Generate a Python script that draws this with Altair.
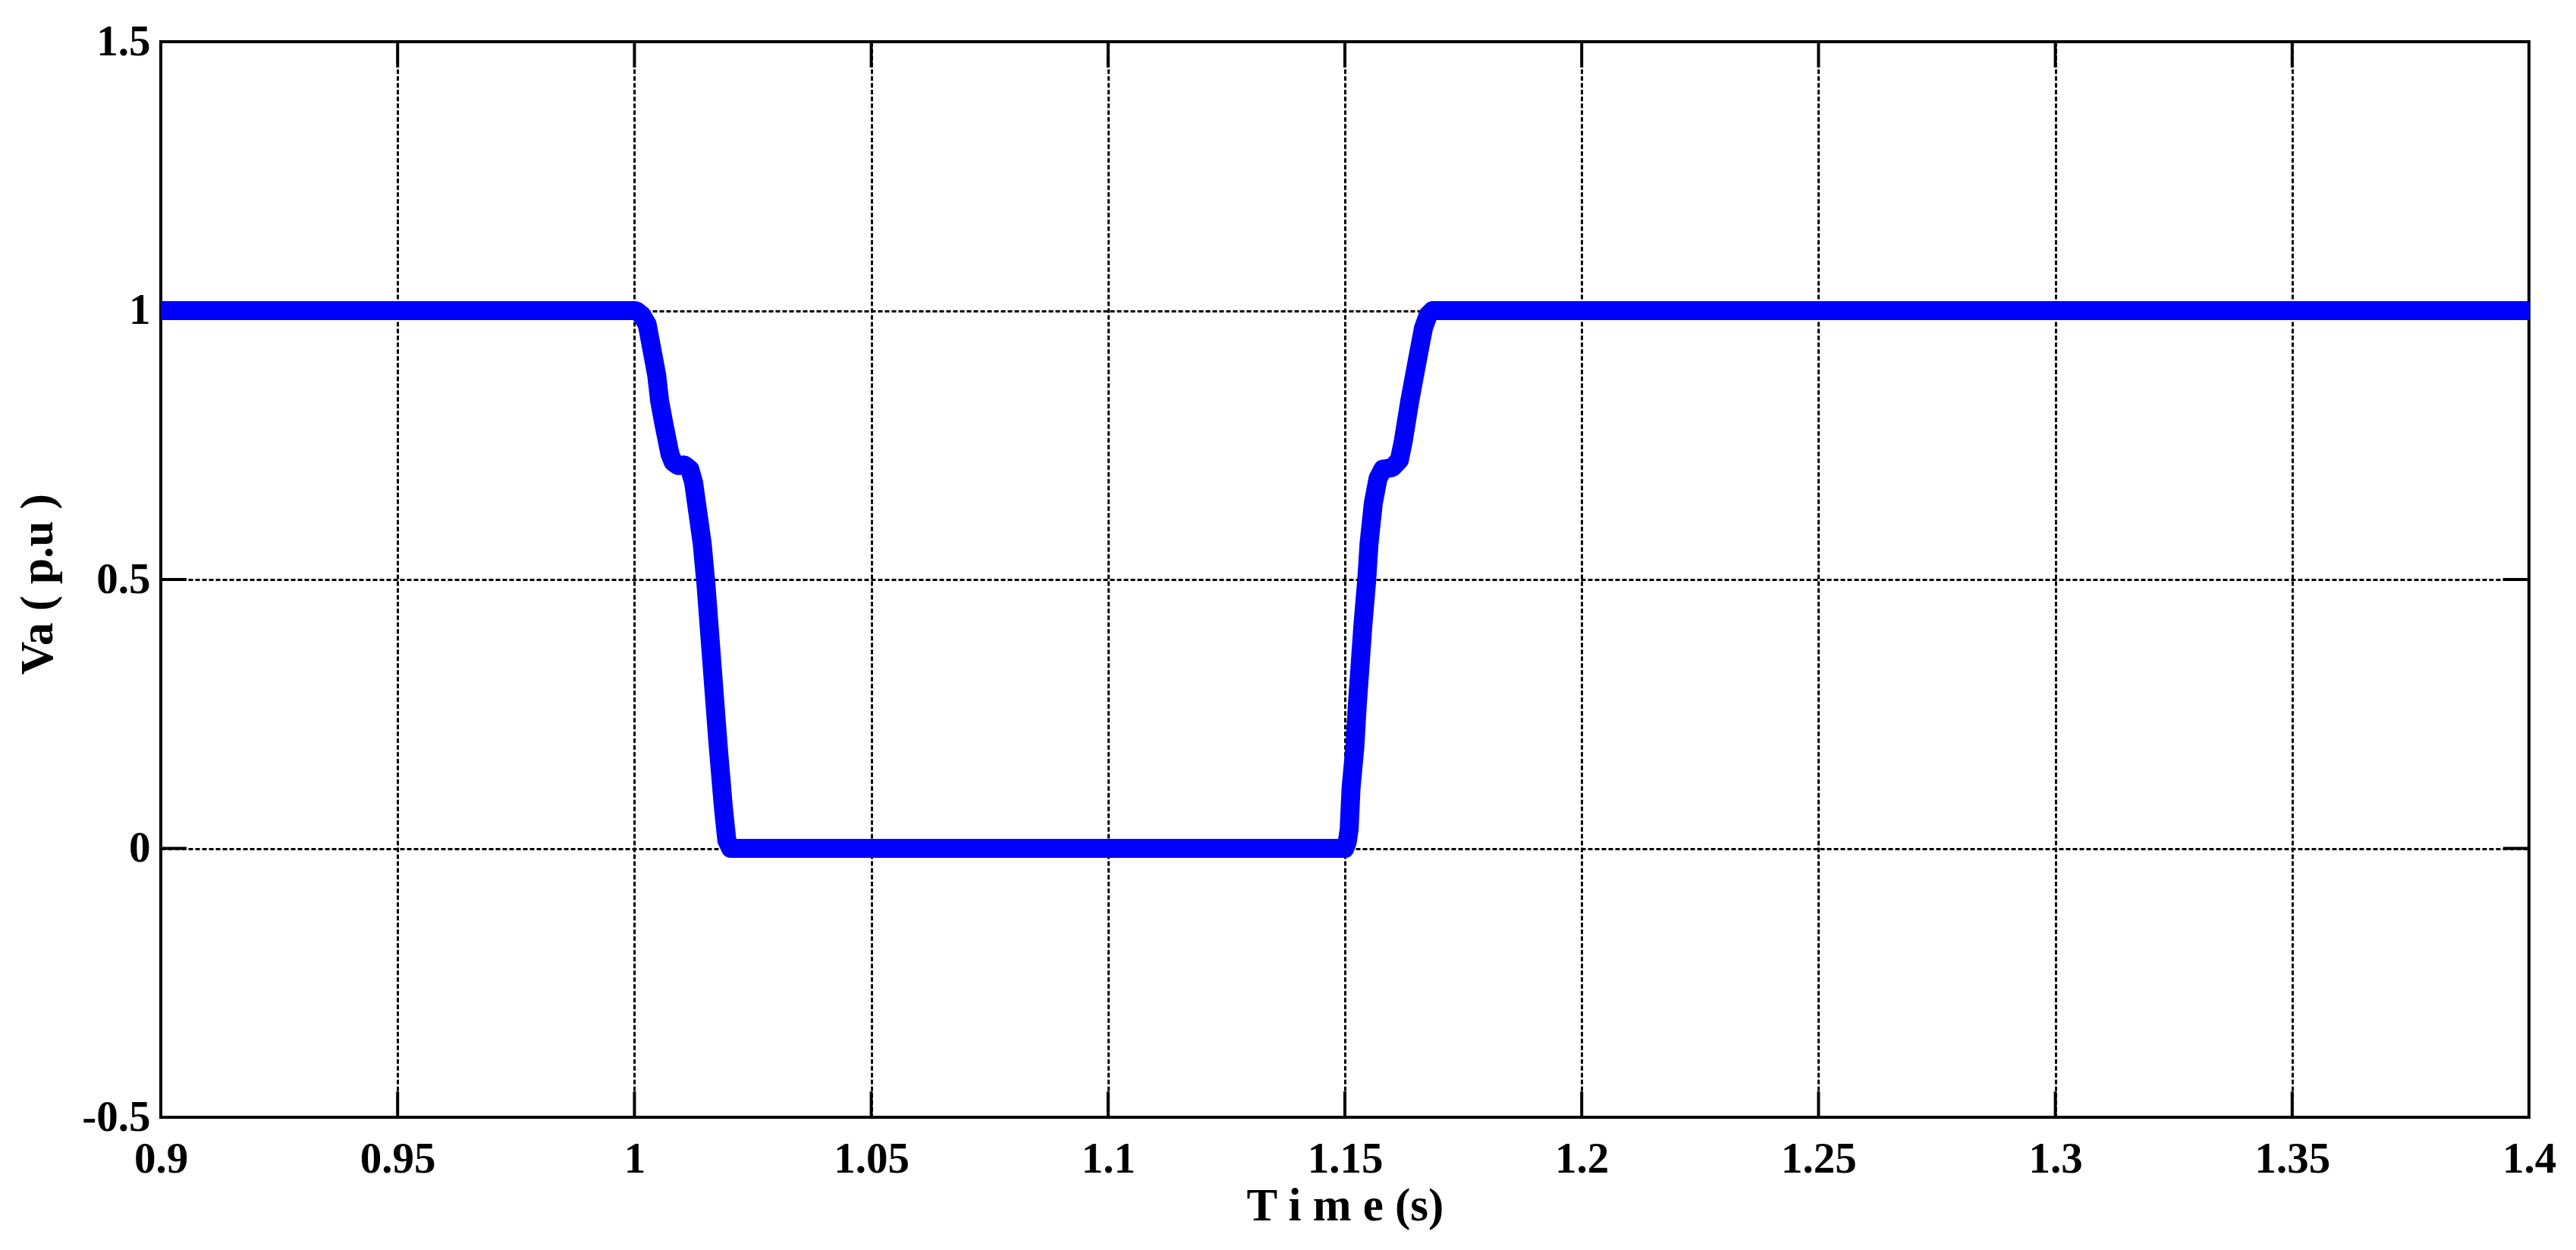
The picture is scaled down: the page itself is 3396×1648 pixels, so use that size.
import altair as alt
import pandas as pd

# ---- data ----
time_s = [0.9, 1.0, 1.0005, 1.0015, 1.0027, 1.0037, 1.0047, 1.0053, 1.0062, 1.0075,
          1.0082, 1.0092, 1.0105, 1.0117, 1.0125, 1.0131, 1.0143, 1.0151, 1.0164, 1.0177,
          1.0188, 1.0195, 1.0203, 1.1500, 1.1505, 1.1509, 1.1513, 1.1521, 1.1526, 1.1532,
          1.1538, 1.1546, 1.1551, 1.1560, 1.1570, 1.1580, 1.1600, 1.1615, 1.1623, 1.1637,
          1.1653, 1.1666, 1.1676, 1.1685, 1.4]
va_pu = [1.0, 1.0, 0.999, 0.992, 0.974, 0.927, 0.880, 0.833, 0.790, 0.733,
         0.718, 0.712, 0.713, 0.705, 0.680, 0.642, 0.567, 0.491, 0.339, 0.188,
         0.074, 0.015, 0.0, 0.0, 0.012, 0.036, 0.112, 0.188, 0.264, 0.339,
         0.415, 0.498, 0.567, 0.642, 0.688, 0.705, 0.708, 0.722, 0.756, 0.832,
         0.908, 0.968, 0.992, 1.0, 1.0]
x_ticks = [0.9, 0.95, 1.0, 1.05, 1.1, 1.15, 1.2, 1.25, 1.3, 1.35, 1.4]
y_ticks = [-0.5, 0, 0.5, 1, 1.5]
x_title = "T i m e (s)"
y_title = "Va ( p.u )"

W, H = 3122, 1418
FONT = "Liberation Serif"
FS = 57
TFS = 61
TICK = 34

df = pd.DataFrame({"t": time_s, "v": va_pu})
xt = pd.DataFrame({"t": x_ticks})
yt = pd.DataFrame({"v": y_ticks})

xs = alt.Scale(domain=[0.9, 1.4], nice=False, zero=False)
ys = alt.Scale(domain=[-0.5, 1.5], nice=False, zero=False)

x_axis = alt.Axis(
    values=x_ticks, format="~g", ticks=False, domain=False,
    grid=True, gridColor="black", gridDash=[6, 3], gridWidth=3, gridOpacity=1,
    labelFont=FONT, labelFontSize=FS, labelFontWeight="bold", labelColor="black",
    labelBaseline="alphabetic", labelPadding=72, labelFlush=False, labelOverlap=False,
    title=x_title, titleFont=FONT, titleFontSize=TFS, titleFontWeight="bold",
    titleColor="black", titleX=W / 2, titleY=135, titleBaseline="alphabetic",
    titleAlign="center", titleAngle=0,
)
y_axis = alt.Axis(
    values=y_ticks, format="~g", ticks=False, domain=False,
    labelExpr="replace(datum.label, '\u2212', '-')",
    grid=True, gridColor="black", gridDash=[6, 3], gridWidth=3, gridOpacity=1,
    labelFont=FONT, labelFontSize=FS, labelFontWeight="bold", labelColor="black",
    labelBaseline="middle", labelAlign="right", labelPadding=14, labelFlush=False,
    labelOverlap=False,
    title=y_title, titleFont=FONT, titleFontSize=TFS, titleFontWeight="bold",
    titleColor="black", titleX=-144, titleY=715, titleBaseline="alphabetic",
    titleAlign="center", titleAngle=270,
)

line = alt.Chart(df).mark_line(
    color="#0000FF", strokeWidth=25, strokeJoin="round", strokeCap="butt", clip=True
).encode(
    x=alt.X("t:Q", scale=xs, axis=x_axis),
    y=alt.Y("v:Q", scale=ys, axis=y_axis),
)

bottom_ticks = alt.Chart(xt).mark_rule(color="black", strokeWidth=4).encode(
    x=alt.X("t:Q", scale=xs, axis=x_axis), y=alt.value(H), y2=alt.value(H - TICK))
top_ticks = alt.Chart(xt).mark_rule(color="black", strokeWidth=4).encode(
    x=alt.X("t:Q", scale=xs, axis=x_axis), y=alt.value(0), y2=alt.value(TICK))
left_ticks = alt.Chart(yt).mark_rule(color="black", strokeWidth=4).encode(
    y=alt.Y("v:Q", scale=ys, axis=y_axis), x=alt.value(0), x2=alt.value(TICK))
right_ticks = alt.Chart(yt).mark_rule(color="black", strokeWidth=4).encode(
    y=alt.Y("v:Q", scale=ys, axis=y_axis), x=alt.value(W - TICK), x2=alt.value(W))

chart = alt.layer(bottom_ticks, top_ticks, left_ticks, right_ticks, line).properties(
    width=W, height=H,
    autosize=alt.AutoSizeParams(type="none"),
    padding={"left": 204, "top": 47, "right": 50, "bottom": 160},
    background="white",
).configure_view(stroke="black", strokeWidth=4)

chart.save("out.html", embed_options={"renderer": "svg", "actions": False})
